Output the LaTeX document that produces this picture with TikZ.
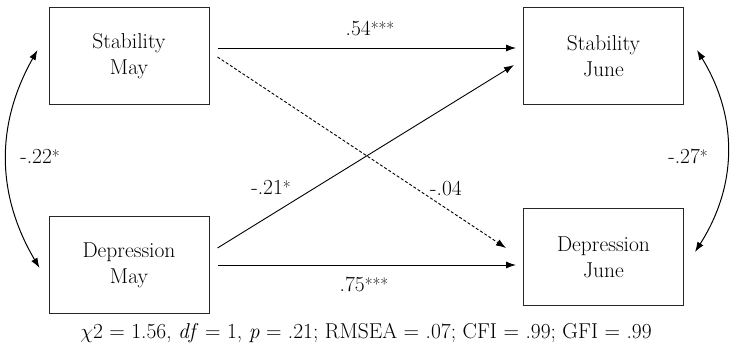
\documentclass[tikz,border=0pt]{standalone}
\usetikzlibrary{arrows.meta}
\begin{document}
\begin{tikzpicture}[x=1pt,y=-1pt,
  box/.style={draw=black!85,line width=1pt,minimum width=160pt,minimum height=97pt,inner sep=0pt,align=center,font=\rmfamily\fontsize{21.5}{26}\selectfont},
  lbl/.style={font=\rmfamily\fontsize{21.5}{25}\selectfont,inner sep=0pt},
  arr/.style={line width=0.9pt,-{Latex[length=10pt,width=7pt]}},
  dbl/.style={line width=1pt,{Latex[length=10pt,width=7pt]}-{Latex[length=10pt,width=7pt]}}]
\useasboundingbox (0,0) rectangle (732,358);
\newcommand{\st}[1]{{\fontsize{17}{17}\selectfont\raisebox{1pt}{#1}}}
\node[box] (sm) at (129,56.5) {Stability\\May};
\node[box] (sj) at (603.5,56.5) {Stability\\June};
\node[box] (dm) at (129,265) {Depression\\May};
\node[box] (dj) at (603.5,257.5) {Depression\\June};
\coordinate (a1) at ([xshift=8pt,yshift=8.5pt]sm.east);
\coordinate (a2) at ([xshift=-7pt,yshift=8.5pt]sj.west);
\draw[arr] (a1) -- (a2);
\coordinate (b1) at ([xshift=8pt,yshift=-0.5pt]sm.east);
\coordinate (b2) at ([xshift=-17pt,yshift=9.5pt]dj.west);
\draw[arr,densely dashed] (b1) -- (b2);
\coordinate (c1) at ([xshift=8pt,yshift=17pt]dm.east);
\coordinate (c2) at ([xshift=-9pt,yshift=-8.5pt]sj.west);
\draw[arr] (c1) -- (c2);
\coordinate (d1) at ([xshift=8pt]dm.east);
\coordinate (d2) at ([xshift=-7pt,yshift=-7.5pt]dj.west);
\draw[arr] (d1) -- (d2);
\coordinate (e1) at ([xshift=-11pt,yshift=6.5pt]sm.west);
\coordinate (e2) at ([xshift=-9pt,yshift=-3pt]dm.west);
\draw[dbl] (e1) to[bend right=30] (e2);
\coordinate (f1) at ([xshift=13pt,yshift=6.5pt]sj.east);
\coordinate (f2) at ([xshift=11pt,yshift=5.5pt]dj.east);
\draw[dbl] (f1) to[bend left=32] (f2);
\node[lbl] (l1) at (370,28) {.54\st{***}};
\node[lbl] (l2) at (446,188) {-.04};
\node[lbl] (l3) at (271,187) {-.21\st{*}};
\node[lbl] (l4) at (364,284) {.75\st{***}};
\node[lbl] (l5) at (40,156) {-.22\st{*}};
\node[lbl] (l6) at (688,156) {-.27\st{*}};
\node[lbl] (fit) at (366,333) {$\chi$2 = 1.56, \textit{df} = 1, \textit{p} = .21; RMSEA = .07; CFI = .99; GFI = .99};
\end{tikzpicture}
\end{document}
